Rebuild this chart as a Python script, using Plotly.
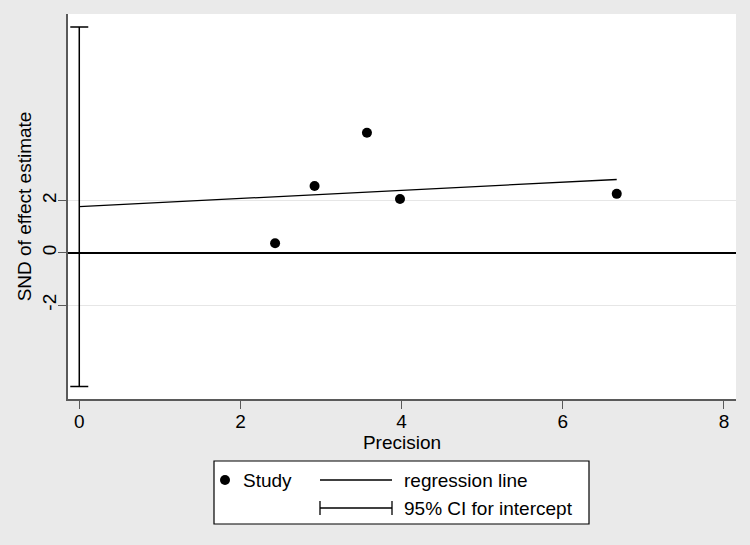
import plotly.graph_objects as go

# ---- data ----
precision = [2.43, 2.92, 3.57, 3.98, 6.67]
snd = [0.37, 2.56, 4.60, 2.06, 2.26]
reg_x = [0.0, 6.67]
reg_y = [1.77, 2.81]
intercept = 1.77
ci_lower = -5.12
ci_upper = 8.65
x_ticks = [0, 2, 4, 6, 8]
y_ticks = [-2, 0, 2]
y_tick_labels = ["-2", "0", "2"]

W, H = 750, 545
L, R, T, B = 68, 736, 14, 399
FONT = "Liberation Sans, Arial, sans-serif"
BG = "#EAEAEA"

def px(x):
    return (x - L) / (R - L)

def py(y):
    return (B - y) / (B - T)

fig = go.Figure()

# CI for intercept
fig.add_trace(go.Scatter(
    x=[0], y=[intercept], mode="markers",
    marker=dict(size=1, color="rgba(0,0,0,0)"),
    error_y=dict(type="data", symmetric=False,
                 array=[ci_upper - intercept], arrayminus=[intercept - ci_lower],
                 color="black", thickness=1.5, width=9),
    showlegend=False, hoverinfo="skip"))

# regression line
fig.add_trace(go.Scatter(x=reg_x, y=reg_y, mode="lines",
                         line=dict(color="black", width=1.3),
                         showlegend=False))

# studies
fig.add_trace(go.Scatter(x=precision, y=snd, mode="markers",
                         marker=dict(color="black", size=10),
                         showlegend=False))

fig.update_layout(
    width=W, height=H,
    margin=dict(l=L, r=W - R, t=T, b=H - B),
    paper_bgcolor=BG, plot_bgcolor="white",
    font=dict(family=FONT, size=19, color="black"),
    showlegend=False,
)

fig.update_xaxes(
    range=[-0.14, 8.15], tickvals=x_ticks, showgrid=False, zeroline=False,
    showline=True, linecolor="#5a5a5a", linewidth=1.5,
    ticks="outside", ticklen=8, tickcolor="#5a5a5a", tickwidth=1.2,
    tickfont=dict(size=19), ticklabelstandoff=-4,
    title=dict(text="Precision", font=dict(size=19), standoff=0),
)
fig.update_yaxes(
    range=[-5.6, 9.15], tickvals=y_ticks, ticktext=y_tick_labels, tickangle=-90,
    showgrid=True, gridcolor="#E6E6E6", gridwidth=1,
    zeroline=True, zerolinecolor="black", zerolinewidth=1.6,
    showline=True, linecolor="#5a5a5a", linewidth=1.5,
    ticks="outside", ticklen=8, tickcolor="#5a5a5a", tickwidth=1.2,
    tickfont=dict(size=19), ticklabelstandoff=-5,
    title=dict(text="SND of effect estimate", font=dict(size=19), standoff=2),
)

# ---- legend box drawn manually ----
shapes = []
shapes.append(dict(type="rect", xref="paper", yref="paper",
                   x0=px(214), x1=px(589), y0=py(524), y1=py(461),
                   fillcolor="white", line=dict(color="black", width=1.2)))
shapes.append(dict(type="circle", xref="paper", yref="paper",
                   x0=px(220), x1=px(230), y0=py(485), y1=py(475),
                   fillcolor="black", line=dict(color="black", width=0)))
shapes.append(dict(type="line", xref="paper", yref="paper",
                   x0=px(320), x1=px(392), y0=py(480), y1=py(480),
                   line=dict(color="black", width=1.3)))
shapes.append(dict(type="line", xref="paper", yref="paper",
                   x0=px(320), x1=px(392), y0=py(508), y1=py(508),
                   line=dict(color="black", width=1.3)))
for xx in (320, 392):
    shapes.append(dict(type="line", xref="paper", yref="paper",
                       x0=px(xx), x1=px(xx), y0=py(501), y1=py(515),
                       line=dict(color="black", width=1.3)))
fig.update_layout(shapes=shapes)

anns = []
for txt, xx, yy in [("Study", 243, 480), ("regression line", 404, 480),
                    ("95% CI for intercept", 404, 508)]:
    anns.append(dict(text=txt, xref="paper", yref="paper", x=px(xx), y=py(yy),
                     xanchor="left", yanchor="middle", showarrow=False,
                     xshift=-2, font=dict(size=19, family=FONT, color="black")))
fig.update_layout(annotations=anns)

fig.write_html("out.html", config={"displayModeBar": False},
               post_script="document.body.style.margin='0px';document.body.style.overflow='hidden';")
